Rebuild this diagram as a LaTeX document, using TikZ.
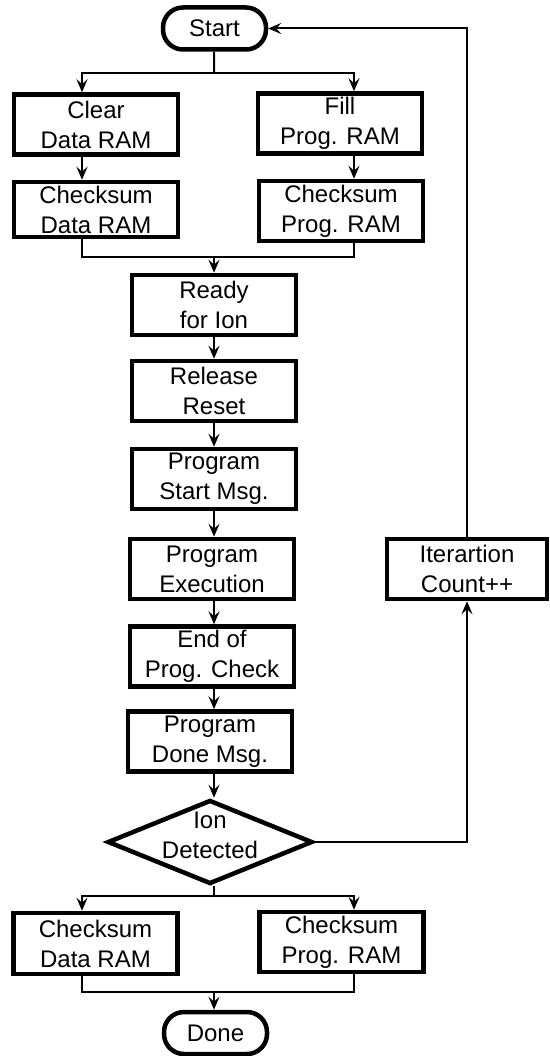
\documentclass[tikz,border=0pt]{standalone}
\usepackage{fontspec}
\setmainfont{Liberation Sans}
\usetikzlibrary{shapes.geometric,arrows.meta}

\begin{document}
\begin{tikzpicture}[x=1pt,y=-1pt,
  font=\fontsize{24}{30}\selectfont,
  box/.style={draw,line width=4.5pt,minimum width=164pt,minimum height=60pt,align=center,inner sep=0pt},
  term/.style={draw,line width=4.5pt,rounded corners=20pt,minimum width=103pt,minimum height=42pt,inner sep=0pt},
  decision/.style={draw,diamond,line width=4.5pt,aspect=2.4,inner sep=-10pt,minimum width=205pt,minimum height=84pt,align=center},
  wire/.style={line width=2pt},
  >={Stealth[length=13pt,width=11pt,inset=5pt]}]
\useasboundingbox (0,0) rectangle (549,1056);
\coordinate (MAIN) at (214,0);
\coordinate (L) at (82,0);
\coordinate (R) at (354,0);
\coordinate (SPLITA) at (214,73);
\coordinate (MERGEA) at (214,257);
\coordinate (SPLITB) at (214,896);
\coordinate (MERGEB) at (214,992);
% Start and RAM setup
\node[term] (START) at (214.5,28.5) {Start};
\node[box] (CLEAR) at (96,124.5) {Clear\\Data RAM};
\node[box] (FILL) at (340,123.5) {Fill\\Prog. RAM};
\node[box,minimum height=55pt] (CHKDATA) at (96,209.5) {Checksum\\Data RAM};
\node[box] (CHKPROG) at (341,211) {Checksum\\Prog. RAM};
% main column
\node[box] (READY) at (214,305) {Ready\\for Ion};
\node[box] (RELEASE) at (214,391) {Release\\Reset};
\node[box] (STARTMSG) at (214,479) {Program\\Start Msg.};
\node[box] (EXEC) at (212,569) {Program\\Execution};
\node[box] (ENDCHK) at (212,656.5) {End of\\Prog. Check};
\node[box] (DONEMSG) at (210,741.5) {Program\\Done Msg.};
\node[decision] (ION) at (210,842) {Ion\\Detected\rule[-14pt]{0pt}{14pt}};
\node[box,minimum width=160pt] (ITER) at (467,569) {Iterartion\\Count++};
% final checksums
\node[box,minimum height=61pt] (CHKDATAB) at (95.5,943.5) {Checksum\\Data RAM};
\node[box] (CHKPROGB) at (341.5,942) {Checksum\\Prog. RAM};
\node[term] (DONE) at (215.5,1033) {Done};
% connectors
\draw[wire] (START) -- (SPLITA);
\draw[wire,->] (SPLITA) -| (CLEAR.north -| L);
\draw[wire,->] (SPLITA) -| (FILL.north -| R);
\draw[wire,->] (CLEAR.south -| L) -- (CHKDATA.north -| L);
\draw[wire,->] (FILL.south -| R) -- (CHKPROG.north -| R);
\draw[wire] (CHKDATA.south -| L) |- (MERGEA) -| (CHKPROG.south -| R);
\draw[wire,->] (MERGEA) -- (READY.north -| MAIN);
\foreach \a/\b in {READY/RELEASE,RELEASE/STARTMSG,STARTMSG/EXEC,EXEC/ENDCHK,ENDCHK/DONEMSG,DONEMSG/ION}
  \draw[wire,->] (\a.south -| MAIN) -- (\b.north -| MAIN);
\draw[wire] (ION.south -| MAIN) -- (SPLITB);
\draw[wire,->] (SPLITB) -| (CHKDATAB.north -| L);
\draw[wire,->] (SPLITB) -| (CHKPROGB.north -| R);
\draw[wire] (CHKDATAB.south -| L) |- (MERGEB) -| (CHKPROGB.south -| R);
\draw[wire,->] (MERGEB) -- (DONE.north -| MAIN);
% loop back
\draw[wire,->] (ION.east) -| (ITER.south);
\draw[wire,->] (ITER.north) |- (START.east);
\end{tikzpicture}
\end{document}
